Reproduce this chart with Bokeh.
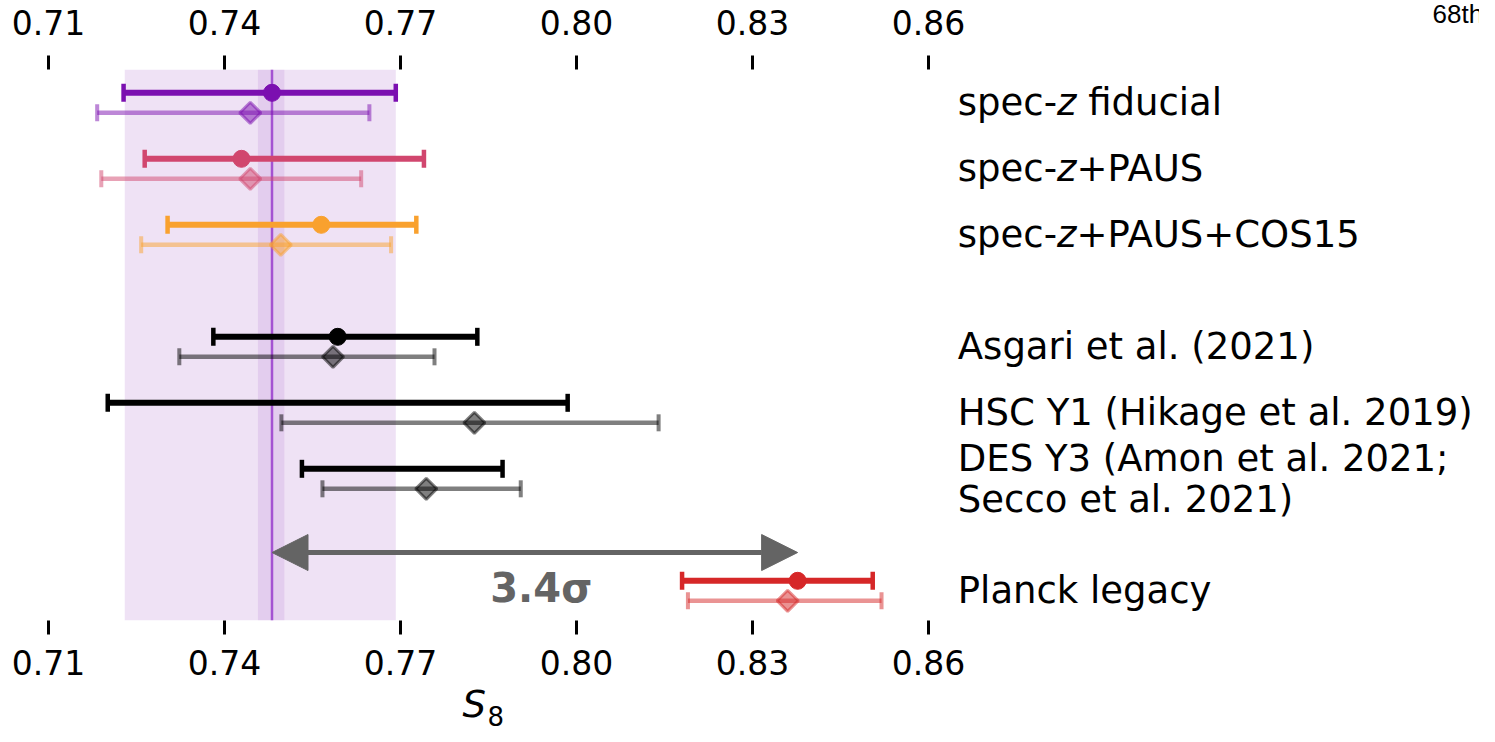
import math
from bokeh.plotting import figure
from bokeh.models import (Range1d, FixedTicker, NumeralTickFormatter, LinearAxis, Arrow,
                          NormalHead, Label, BoxAnnotation, Span, ColumnDataSource, Title)
from bokeh.core.properties import value
from bokeh.embed import file_html
from bokeh.resources import INLINE

NAN = float("nan")

# ---------------- data ----------------
labels = ["spec-z fiducial", "spec-z+PAUS", "spec-z+PAUS+COS15", "Asgari et al. (2021)",
          "HSC Y1 (Hikage et al. 2019)", "DES Y3 (Amon et al. 2021;\nSecco et al. 2021)",
          "Planck legacy"]
# primary estimate (solid, circles)
main_mid = [0.7481, 0.7429, 0.7565, 0.7593, NAN, NAN, 0.8377]
main_lo = [0.7228, 0.7264, 0.7303, 0.7381, 0.7201, 0.7532, 0.8180]
main_hi = [0.7692, 0.7740, 0.7727, 0.7831, 0.7985, 0.7874, 0.8505]
# alternative estimate (translucent, diamonds)
alt_mid = [0.7444, 0.7444, 0.7496, 0.7585, 0.7826, 0.7744, 0.8360]
alt_lo = [0.7183, 0.7190, 0.7258, 0.7323, 0.7497, 0.7567, 0.8190]
alt_hi = [0.7647, 0.7633, 0.7684, 0.7758, 0.8140, 0.7905, 0.8520]
colors = ["#7b0fb0", "#d1466e", "#f9a12e", "#000000", "#000000", "#000000", "#d62728"]
band_lo, band_hi = 0.7230, 0.7692      # fiducial 68% interval
core_lo, core_hi = 0.7457, 0.7502
fid_value = 0.7481
tension_text = "3.4\u03c3"
xticks = [0.71, 0.74, 0.77, 0.80, 0.83, 0.86]
x_label_main, x_label_sub = "S", "8"
corner_text = "68th-percentile"

# ---------------- layout constants ----------------
ROW_Y = [0, 1, 2, 3.697, 4.697, 5.697, 7.394]
DY = 0.1515
LABEL_X = 0.8650
FONT = "DejaVu Sans"
LBL_SIZE = 37

p = figure(width=1479, height=734, output_backend="svg", toolbar_location=None,
           x_range=Range1d(0.70182, 0.95393), y_range=Range1d(7.844, -0.505),
           x_axis_location="below", y_axis_location=None)
p.min_border_left = 0
p.min_border_right = 0
p.min_border_top = 69
p.min_border_bottom = 114
p.outline_line_color = None
p.xgrid.visible = False
p.ygrid.visible = False
p.background_fill_color = "white"
p.border_fill_color = "white"

top_axis = LinearAxis()
p.add_layout(top_axis, "above")
for ax in p.xaxis:
    ax.ticker = FixedTicker(ticks=xticks)
    ax.formatter = NumeralTickFormatter(format="0.00")
    ax.axis_line_color = None
    ax.major_tick_out = 14
    ax.major_tick_in = 0
    ax.minor_tick_out = 0
    ax.minor_tick_in = 0
    ax.major_tick_line_width = 3
    ax.major_tick_line_color = "black"
    ax.major_label_text_font = FONT
    ax.major_label_text_font_size = "33px"
    ax.major_label_text_color = "black"
top_axis.major_label_standoff = 21
p.below[0].major_label_standoff = 15

# x-axis title S_8 (italic S with an upright subscript 8)
p.add_layout(Title(text=x_label_main, text_font=FONT, text_font_style="italic",
                   text_font_size="37px", text_color="black", align="left", offset=462,
                   standoff=6, vertical_align="bottom"), "below")
p.add_layout(Title(text=x_label_sub, text_font=FONT, text_font_style="normal",
                   text_font_size="26px", text_color="black", align="left", offset=487,
                   standoff=-46, vertical_align="top"), "below")

# corner note (cut off at the right edge, as in the original)
p.add_layout(Title(text=corner_text, text_font="Liberation Sans", text_font_size="26px",
                   text_font_style="normal", text_color="black", align="left", offset=1432,
                   standoff=-44, vertical_align="bottom"), "above")

# shaded fiducial interval
p.add_layout(BoxAnnotation(left=band_lo, right=band_hi, fill_color=colors[0], fill_alpha=0.12,
                           line_color=None, level="underlay"))
p.add_layout(BoxAnnotation(left=core_lo, right=core_hi, fill_color=colors[0], fill_alpha=0.10,
                           line_color=None, level="underlay"))
p.add_layout(Span(location=fid_value, dimension="height", line_color="#a452d2",
                  line_width=2.5, level="underlay"))

# error bars
y_main = [y - DY for y in ROW_Y]
y_alt = [y + DY for y in ROW_Y]
src_main = ColumnDataSource(dict(y=y_main, lo=main_lo, hi=main_hi, mid=main_mid, c=colors))
src_alt = ColumnDataSource(dict(y=y_alt, lo=alt_lo, hi=alt_hi, mid=alt_mid, c=colors))

p.segment(x0="lo", y0="y", x1="hi", y1="y", source=src_alt, line_color="c", line_alpha=0.5,
          line_width=4.5)
for k in ("lo", "hi"):
    p.scatter(x=k, y="y", source=src_alt, marker="dash", angle=math.pi / 2, size=17,
              line_color="c", line_alpha=0.5, line_width=4)
p.scatter(x="mid", y="y", source=src_alt, marker="square", angle=math.pi / 4, size=15,
          fill_color="c", fill_alpha=0.5, line_color="c", line_alpha=0.5, line_width=3)

p.segment(x0="lo", y0="y", x1="hi", y1="y", source=src_main, line_color="c", line_width=6)
for k in ("lo", "hi"):
    p.scatter(x=k, y="y", source=src_main, marker="dash", angle=math.pi / 2, size=18,
              line_color="c", line_width=4.5)
mid_ok = [i for i, m in enumerate(main_mid) if not math.isnan(m)]
p.scatter(x=[main_mid[i] for i in mid_ok], y=[y_main[i] for i in mid_ok], marker="circle",
          size=17, fill_color=[colors[i] for i in mid_ok], line_color=[colors[i] for i in mid_ok])

# row labels (italic 'z' in the spec-z labels)
W_SPEC = 2.682 * LBL_SIZE   # advance width of "spec-"
W_Z = 0.525 * LBL_SIZE      # advance width of "z"
W_SP = 0.318 * LBL_SIZE     # advance width of a space
for i, lab in enumerate(labels):
    lines = lab.split("\n")
    n = len(lines)
    for j, line in enumerate(lines):
        yl = ROW_Y[i] + (j - (n - 1) / 2) * 0.62
        if line.startswith("spec-z"):
            rest = line[len("spec-z"):]
            off = W_SPEC + W_Z
            if rest.startswith(" "):
                rest = rest.lstrip(" ")
                off += W_SP
            p.text(x=[LABEL_X], y=[yl], text=["spec-"], text_font=value(FONT),
                   text_font_size=f"{LBL_SIZE}px", text_baseline="middle", text_align="left")
            p.text(x=[LABEL_X], y=[yl], text=["z"], x_offset=W_SPEC, text_font=value(FONT),
                   text_font_style="italic", text_font_size=f"{LBL_SIZE}px",
                   text_baseline="middle", text_align="left")
            p.text(x=[LABEL_X], y=[yl], text=[rest], x_offset=off,
                   text_font=value(FONT), text_font_size=f"{LBL_SIZE}px",
                   text_baseline="middle", text_align="left")
        else:
            p.text(x=[LABEL_X], y=[yl], text=[line], text_font=value(FONT),
                   text_font_size=f"{LBL_SIZE}px", text_baseline="middle", text_align="left")

# tension arrow
ARROW_Y = 6.814
head_kw = dict(size=36, fill_color="#646464", line_color="#646464")
p.add_layout(Arrow(x_start=fid_value, y_start=ARROW_Y, x_end=main_mid[-1], y_end=ARROW_Y,
                   start=NormalHead(**head_kw), end=NormalHead(**head_kw),
                   line_color="#646464", line_width=5))
p.add_layout(Label(x=0.794, y=7.359, text=tension_text, text_font=FONT, text_font_style="bold",
                   text_font_size="40px", text_color="#646464", text_align="center",
                   text_baseline="middle"))

open("out.html", "w").write(file_html(p, INLINE))
